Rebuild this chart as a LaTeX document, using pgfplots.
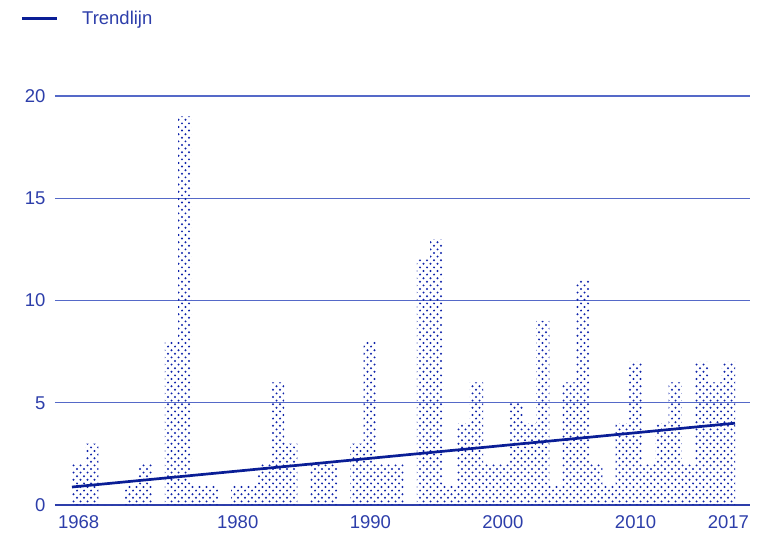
\documentclass[border=0pt]{standalone}
\usepackage{fontspec}
\setmainfont{Liberation Sans}
\usepackage{pgfplots}
\usepackage{pgfplotstable}
\pgfplotsset{compat=1.18}
\usetikzlibrary{patterns}

\definecolor{inkblue}{RGB}{45,62,170}
\definecolor{dotblue}{RGB}{15,35,170}
\definecolor{gridblue}{RGB}{85,105,200}
\definecolor{trendblue}{RGB}{10,30,150}

% staggered dot fill of the bars
\pgfdeclarepatternformonly{bardots}{\pgfpoint{-1.1pt}{-1.1pt}}{\pgfpoint{4.7pt}{4.7pt}}{\pgfpoint{7pt}{7.2pt}}{%
  \pgfpathcircle{\pgfpoint{0pt}{0pt}}{1.1pt}%
  \pgfpathcircle{\pgfpoint{3.5pt}{3.6pt}}{1.1pt}%
  \pgfusepath{fill}}

\pgfplotstableread{
year count
1968 2
1969 3
1970 0
1971 0
1972 1
1973 2
1974 0
1975 8
1976 19
1977 1
1978 1
1979 0
1980 1
1981 1
1982 2
1983 6
1984 3
1985 0
1986 2
1987 2
1988 0
1989 3
1990 8
1991 2
1992 2
1993 0
1994 12
1995 13
1996 1
1997 4
1998 6
1999 2
2000 2
2001 5
2002 4
2003 9
2004 1
2005 6
2006 11
2007 2
2008 1
2009 4
2010 7
2011 2
2012 4
2013 6
2014 2
2015 7
2016 6
2017 7
}\counts

\begin{document}
\begin{tikzpicture}
  \path[use as bounding box] (-55pt,-36pt) rectangle (708pt,505pt);
  \begin{axis}[
    scale only axis,
    width=695pt, height=409pt,
    xmin=1966.22, xmax=2018.63,
    ymin=0, ymax=20,
    axis x line*=bottom,
    axis y line*=left,
    x axis line style={inkblue, line width=1.5pt},
    y axis line style={draw=none},
    xtick={1968,1980,1990,2000,2010,2017},
    ytick={0,5,10,15,20},
    major tick length=0pt,
    ymajorgrids,
    grid style={gridblue, line width=1.2pt},
    /pgf/number format/assume math mode=true,
    /pgf/number format/1000 sep={},
    tick label style={font=\fontsize{18.5}{20}\selectfont, text=inkblue},
    yticklabel style={xshift=-6pt},
    xticklabel style={yshift=-7pt},
    legend style={at={(axis description cs:-0.05,1.19)}, anchor=west,
      draw=none, fill=none, inner sep=0pt, column sep=22pt,
      font=\fontsize{18.5}{20}\selectfont, text=inkblue},
    legend image code/.code={\draw[#1] (0pt,0pt) -- (35pt,0pt);},
    clip=false
  ]
    \addplot[ybar, bar width=1, bar shift=0pt, draw=none,
      pattern=bardots, pattern color=dotblue, forget plot]
      table[x=year, y=count]{\counts};
    \addplot[trendblue, line width=2.7pt] coordinates {(1967.5,0.88) (2017.5,4.0)};
    \addlegendentry{Trendlijn}
  \end{axis}
\end{tikzpicture}
\end{document}
